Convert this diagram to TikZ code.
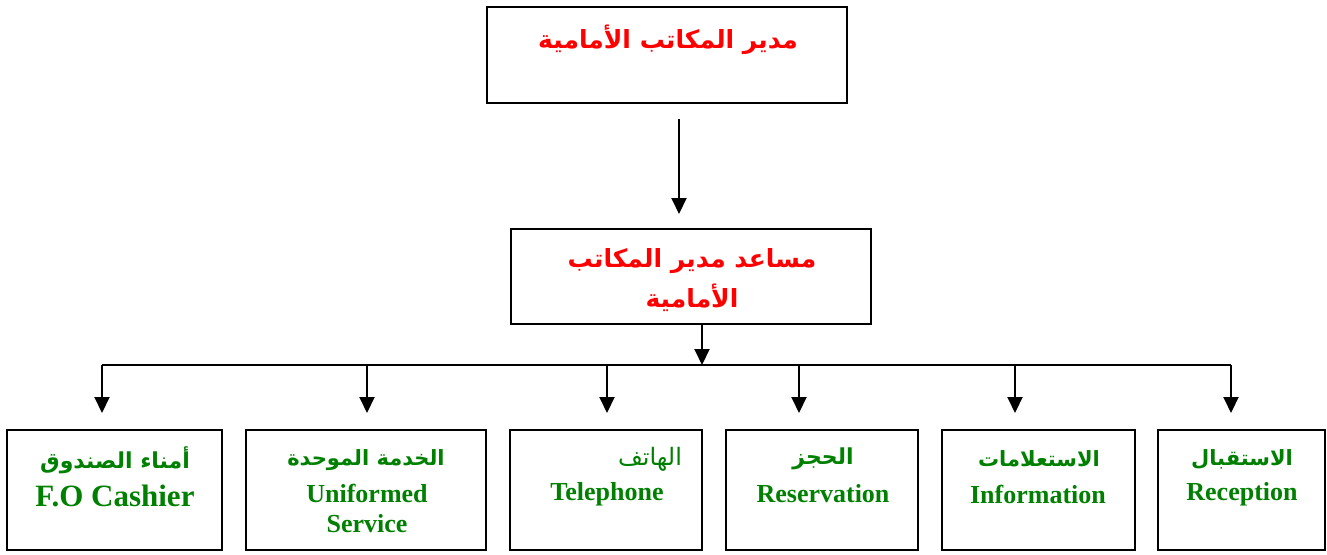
\documentclass[tikz,border=0pt]{standalone}
\usepackage{fontspec}
\setmainfont{Liberation Serif}
\newfontfamily\arabicfont[Script=Arabic]{DejaVu Sans}
\TeXXeTstate=1
\usetikzlibrary{arrows.meta}
\definecolor{titlered}{RGB}{255,0,0}
\definecolor{unitgreen}{RGB}{0,128,0}
\tikzset{
  box/.style={draw=black, line width=2pt, inner sep=0pt},
  conn/.style={line width=2pt, -{Triangle[width=15pt,length=16pt]}},
  plain/.style={line width=2pt},
  artitle/.style={text=titlered, font=\arabicfont\bfseries\fontsize{25}{30}\selectfont, inner sep=0pt},
  arunit/.style={text=unitgreen, font=\arabicfont\bfseries\fontsize{21}{26}\selectfont, inner sep=0pt},
  arunitreg/.style={text=unitgreen, font=\arabicfont\fontsize{24}{28}\selectfont, inner sep=0pt},
  enunit/.style={text=unitgreen, font=\bfseries\fontsize{26}{30}\selectfont, inner sep=0pt},
}
\begin{document}
\begin{tikzpicture}[x=1pt,y=-1pt]
\useasboundingbox (0,0) rectangle (1327,554);
% boxes
\node[box, minimum width=360pt, minimum height=96pt] (top) at (667,55) {};
\node[box, minimum width=360pt, minimum height=95pt] (mid) at (691,276.5) {};
\node[box, minimum width=215pt, minimum height=120pt] (b1) at (114.5,490) {};
\node[box, minimum width=240pt, minimum height=120pt] (b2) at (366,490) {};
\node[box, minimum width=192pt, minimum height=120pt] (b3) at (606,490) {};
\node[box, minimum width=192pt, minimum height=120pt] (b4) at (822,490) {};
\node[box, minimum width=193pt, minimum height=120pt] (b5) at (1038.5,490) {};
\node[box, minimum width=167pt, minimum height=120pt] (b6) at (1241.5,490) {};
% texts
\node[artitle] (ttop) at (668,40) {\beginR مدير المكاتب الأمامية\endR};
\node[artitle] (tmid1) at (692,261) {\beginR مساعد مدير المكاتب\endR};
\node[artitle] (tmid2) at (692,298) {\beginR الأمامية\endR};
\node[arunit, font=\arabicfont\bfseries\fontsize{22}{26}\selectfont] (a1) at (115,460) {\beginR أمناء الصندوق\endR};
\node[enunit, font=\bfseries\fontsize{31}{36}\selectfont] (e1) at (115,496) {F.O Cashier};
\node[arunit] (a2) at (366,460) {\beginR الخدمة الموحدة\endR};
\node[enunit] (e2) at (367,493) {Uniformed};
\node[enunit] (e2b) at (367,524) {Service};
\node[arunitreg] (a3) at (650,459) {\beginR الهاتف\endR};
\node[enunit] (e3) at (607,494) {Telephone};
\node[arunit, font=\arabicfont\bfseries\fontsize{22}{26}\selectfont] (a4) at (823,459) {\beginR الحجز\endR};
\node[enunit] (e4) at (823,494) {Reservation};
\node[arunit] (a5) at (1039,459) {\beginR الاستعلامات\endR};
\node[enunit] (e5) at (1038,494) {Information};
\node[arunit] (a6) at (1242,459) {\beginR الاستقبال\endR};
\node[enunit] (e6) at (1242,494) {Reception};
% connectors
\coordinate (c0s) at (679,119);
\coordinate (c0e) at (679,214);
\draw[conn] (c0s) -- (c0e);
\coordinate (hub) at (702,365);
\draw[conn] (mid.south -| hub) -- (hub);
\coordinate (hl) at (102,365);
\coordinate (hr) at (1231,365);
\draw[plain] (hl) -- (hr);
\foreach \x/\n in {102/b1,367/b2,607/b3,799/b4,1015/b5,1231/b6}{
  \coordinate (s\n) at (\x,365);
  \coordinate (t\n) at (\x,413);
  \draw[conn] (s\n) -- (t\n);
}
\end{tikzpicture}
\end{document}
